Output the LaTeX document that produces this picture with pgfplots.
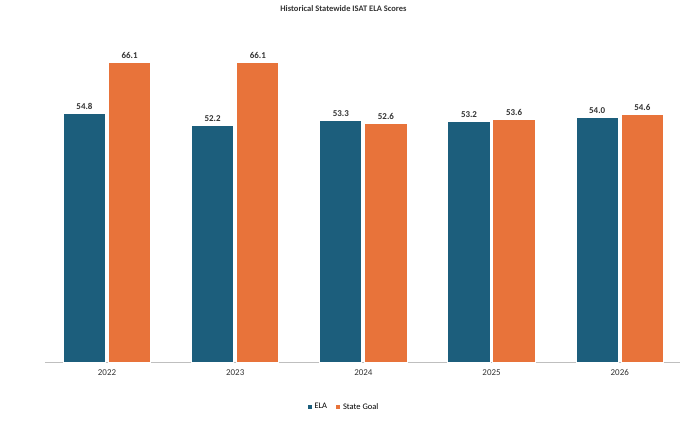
\documentclass[border=0pt]{standalone}
\usepackage{pgfplots}
\pgfplotsset{compat=1.18}
\usepackage{fontspec}
\setmainfont{Carlito}
\definecolor{ela}{HTML}{1C5E7C}
\definecolor{goal}{HTML}{E8733A}
\begin{document}
\begin{tikzpicture}
\path (0,0) rectangle (684bp,428bp);
\begin{axis}[at={(45bp,66bp)}, anchor=south west, scale only axis,
  width=635bp, height=317bp,
  ymin=0, ymax=70, ytick={0,10,...,70},
  xmin=-0.484, xmax=4.47,
  xtick={0,1,2,3,4}, xticklabels={2022,2023,2024,2025,2026},
  ybar, bar width=0.33,
  axis x line*=bottom, axis y line=none,
  x axis line style={gray!50}, xtick style={draw=none},
  ymajorgrids, grid style={gray!25},
  yticklabel style={/pgf/number format/.cd,fixed,fixed zerofill,precision=1},
  /pgf/number format/assume math mode=true,
  ticklabel style={font=\fontsize{9}{10}\selectfont, text=black!80},
  nodes near coords, nodes near coords style={font=\bfseries\fontsize{9}{10}\selectfont, text=black!80,
    /pgf/number format/.cd,fixed,fixed zerofill,precision=1},
  title={\bfseries Historical Statewide ISAT ELA Scores}, title style={font=\fontsize{8.5}{10}\selectfont, text=black!80, at={(0.47,1.0)}, yshift=24bp},
  legend style={at={(0.47,-0.142)}, anchor=center, draw=none, legend columns=2,
    font=\fontsize{8.5}{10}\selectfont, /tikz/every even column/.append style={column sep=6pt}},
  legend image code/.code={\fill[#1] (0,-2.5pt) rectangle (5pt,2.5pt);},
  enlarge x limits=false, clip=false,
]
\addplot[fill=ela, draw=white, line width=1pt, bar shift=-0.176] coordinates {(0,54.8) (1,52.2) (2,53.3) (3,53.2) (4,54.0)};
\addplot[fill=goal, draw=white, line width=1pt, bar shift=0.176] coordinates {(0,66.1) (1,66.1) (2,52.6) (3,53.6) (4,54.6)};
\legend{ELA, State Goal}
\end{axis}
\end{tikzpicture}
\end{document}
